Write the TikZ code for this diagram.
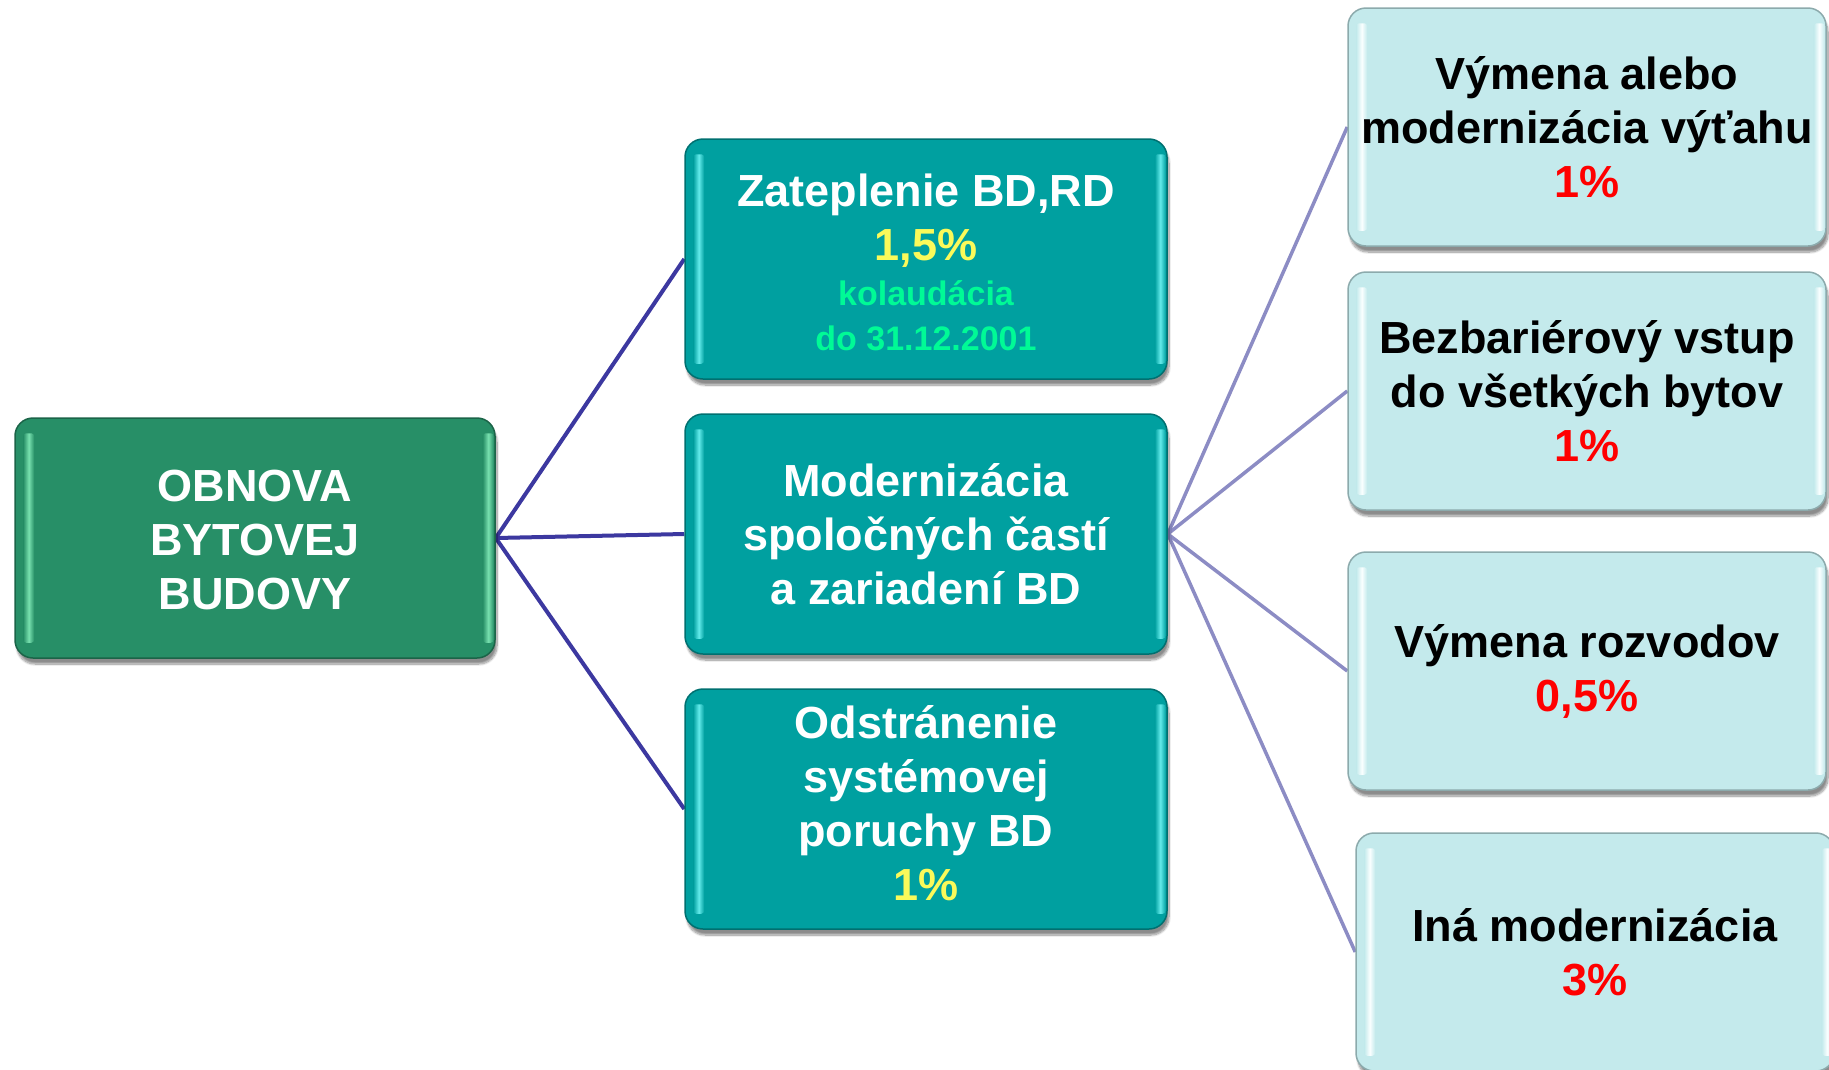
\documentclass[tikz,border=0pt]{standalone}
\usepackage{fontspec}
\setmainfont{Liberation Sans}
\usetikzlibrary{shadows.blur}
\pgfdeclarelayer{bg}
\pgfsetlayers{bg,main}

\definecolor{rootfill}{RGB}{39,143,103}
\definecolor{rootlight}{RGB}{120,225,175}
\definecolor{tealfill}{RGB}{0,160,160}
\definecolor{teallight}{RGB}{100,235,235}
\definecolor{palefill}{RGB}{196,234,236}
\definecolor{palelight}{RGB}{250,255,255}
\definecolor{paleedge}{RGB}{140,170,172}
\definecolor{pctyellow}{RGB}{250,250,90}
\definecolor{dategreen}{RGB}{0,250,150}
\definecolor{edgedark}{RGB}{60,56,160}
\definecolor{edgelight}{RGB}{140,140,196}

\tikzset{
  boxbase/.style={rounded corners=18pt, align=center, inner sep=0pt,
    blur shadow={shadow xshift=2pt, shadow yshift=-6pt, shadow blur steps=10, shadow opacity=45}},
  rootbox/.style={boxbase, fill=rootfill, draw=rootfill!70!black, line width=1.5pt,
    minimum width=480pt, minimum height=240pt},
  tealbox/.style={boxbase, fill=tealfill, draw=tealfill!70!black, line width=1.5pt,
    minimum width=482pt, minimum height=240pt},
  palebox/.style={boxbase, fill=palefill, draw=paleedge, line width=1.5pt,
    minimum width=478pt, minimum height=238pt},
  boxtext/.style={font=\bfseries\fontsize{45}{54}\selectfont, align=center, inner sep=0pt},
  darkedge/.style={draw=edgedark, line width=4pt},
  lightedge/.style={draw=edgelight, line width=3.5pt},
}

\newcommand{\bevelbox}[3]{%
  \shade[rounded corners=3pt, left color=#3, right color=#3, middle color=#2]
    ([xshift=9pt,yshift=-16pt]#1.north west) rectangle ([xshift=20pt,yshift=16pt]#1.south west);
  \shade[rounded corners=3pt, left color=#3, right color=#3, middle color=#2]
    ([xshift=-13pt,yshift=-16pt]#1.north east) rectangle ([xshift=-2pt,yshift=16pt]#1.south east);
}

\begin{document}
\begin{tikzpicture}[x=1pt,y=-1pt]
\useasboundingbox (0,0) rectangle (1829,1069);

% root
\node[rootbox] (root) at (255,538) {};
\bevelbox{root}{rootlight}{rootfill}
\node[boxtext, text=white] (roott) at ([yshift=-2pt]root.center) {OBNOVA\\BYTOVEJ\\BUDOVY};

% middle column
\node[tealbox] (zat) at (926,259) {};
\bevelbox{zat}{teallight}{tealfill}
\node[boxtext, text=white] (zatt) at ([yshift=-3pt]zat.center)
  {Zateplenie BD,RD\\\textcolor{pctyellow}{1,5\%}\\[-9pt]
   \fontsize{34}{42}\selectfont\textcolor{dategreen}{kolaudácia}\\[-9pt]
   \fontsize{34}{42}\selectfont\textcolor{dategreen}{do 31.12.2001}};

\node[tealbox] (mod) at (926,534) {};
\bevelbox{mod}{teallight}{tealfill}
\node[boxtext, text=white] (modt) at (mod.center)
  {Modernizácia\\spoločných častí\\a zariadení BD};

\node[tealbox] (odst) at (926,809) {};
\bevelbox{odst}{teallight}{tealfill}
\node[boxtext, text=white] (odstt) at ([yshift=6pt]odst.center)
  {Odstránenie\\systémovej\\poruchy BD\\\textcolor{pctyellow}{1\%}};

% right column
\node[palebox] (vyt) at (1587,127) {};
\bevelbox{vyt}{palelight}{palefill}
\node[boxtext, text=black] (vytt) at (vyt.center)
  {Výmena alebo\\modernizácia výťahu\\\textcolor{red}{1\%}};

\node[palebox] (bez) at (1587,391) {};
\bevelbox{bez}{palelight}{palefill}
\node[boxtext, text=black] (bezt) at (bez.center)
  {Bezbariérový vstup\\do všetkých bytov\\\textcolor{red}{1\%}};

\node[palebox] (roz) at (1587,671) {};
\bevelbox{roz}{palelight}{palefill}
\node[boxtext, text=black] (rozt) at (roz.center)
  {Výmena rozvodov\\\textcolor{red}{0,5\%}};

\node[palebox] (ina) at (1595,952) {};
\bevelbox{ina}{palelight}{palefill}
\node[boxtext, text=black] (inat) at (ina.center)
  {Iná modernizácia\\\textcolor{red}{3\%}};

% connectors
\begin{pgfonlayer}{bg}
\draw[darkedge] (root.east) -- (zat.west);
\draw[darkedge] (root.east) -- (mod.west);
\draw[darkedge] (root.east) -- (odst.west);
\draw[lightedge] (mod.east) -- (vyt.west);
\draw[lightedge] (mod.east) -- (bez.west);
\draw[lightedge] (mod.east) -- (roz.west);
\draw[lightedge] (mod.east) -- (ina.west);
\end{pgfonlayer}
\end{tikzpicture}
\end{document}
